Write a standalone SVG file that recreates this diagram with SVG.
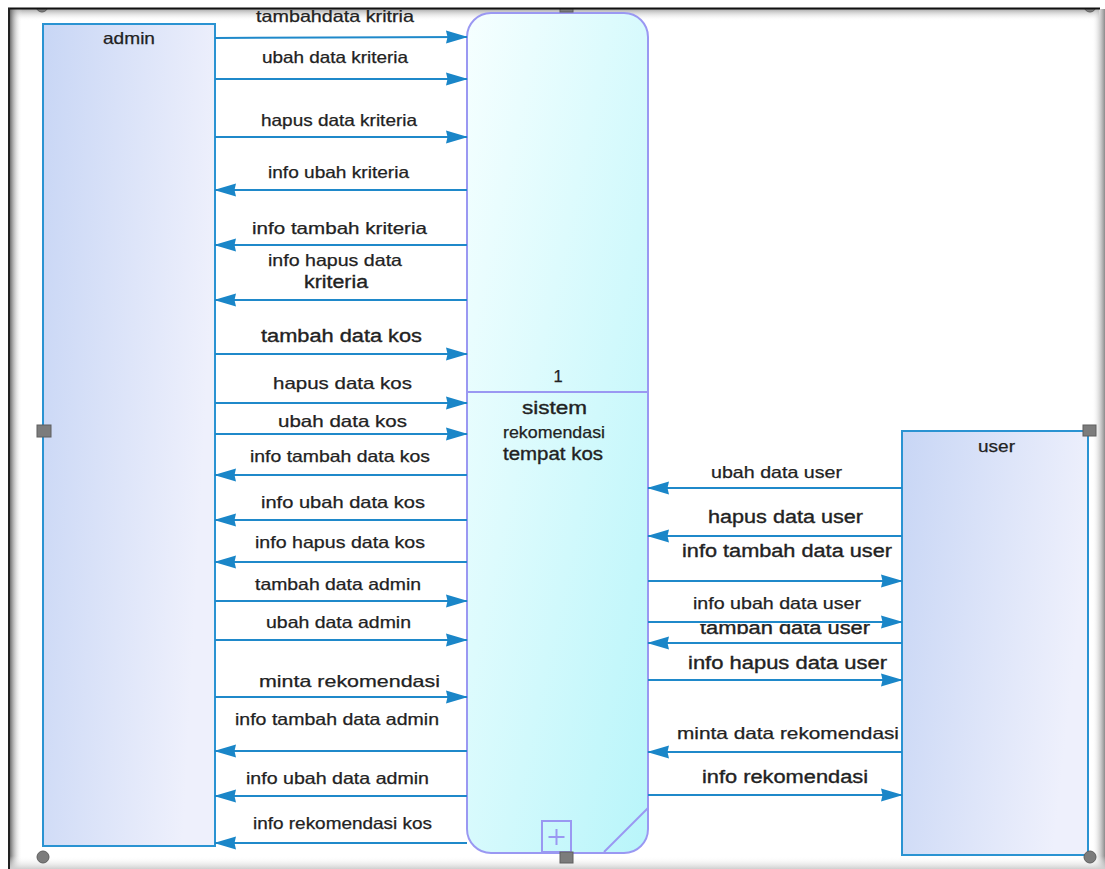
<svg xmlns="http://www.w3.org/2000/svg" width="1105" height="869" viewBox="0 0 1105 869">
<style>
.ent{stroke:#2a93d2;stroke-width:2}
.proc{stroke:#9a98f2;stroke-width:2}
.fl{stroke:#1f89ca;stroke-width:2;fill:none}
.fr{marker-end:url(#ah)}
.t{font-family:"Liberation Sans",Arial,sans-serif;font-size:16.5px;fill:#222;stroke:#222;stroke-width:0.25}
.tl{font-family:"Liberation Sans",Arial,sans-serif;font-size:18px;fill:#222;stroke:#222;stroke-width:0.35}
.hd{fill:#7c7c7c;stroke:#5e5e5e;stroke-width:1}
</style>
<defs>
<marker id="ah" markerUnits="userSpaceOnUse" markerWidth="22" markerHeight="14" refX="21" refY="7" orient="auto">
<path d="M0,0.5 L22,7 L0,13.5 L1.5,7 z" fill="#1a86c8"/>
</marker>
<linearGradient id="gEnt" x1="0" y1="0" x2="1" y2="0.25">
<stop offset="0" stop-color="#c8d6f5"/>
<stop offset="1" stop-color="#eef0fc"/>
</linearGradient>
<linearGradient id="gProc" x1="0" y1="0" x2="1" y2="1">
<stop offset="0" stop-color="#f6ffff"/>
<stop offset="1" stop-color="#b8f5fa"/>
</linearGradient>
<linearGradient id="gTop" x1="0" y1="0" x2="0" y2="1">
<stop offset="0" stop-color="#a8a8a8"/>
<stop offset="1" stop-color="#ffffff" stop-opacity="0"/>
</linearGradient>
<linearGradient id="gLeft" x1="0" y1="0" x2="1" y2="0">
<stop offset="0" stop-color="#555"/>
<stop offset="1" stop-color="#ffffff" stop-opacity="0"/>
</linearGradient>
<linearGradient id="gRight" x1="0" y1="0" x2="1" y2="0">
<stop offset="0" stop-color="#ffffff" stop-opacity="0"/>
<stop offset="1" stop-color="#8a8a8a"/>
</linearGradient>
<linearGradient id="gBot" x1="0" y1="0" x2="0" y2="1">
<stop offset="0" stop-color="#ffffff" stop-opacity="0"/>
<stop offset="1" stop-color="#cfcfcf"/>
</linearGradient>
<clipPath id="clipTU"><rect x="690" y="624" width="200" height="20"/></clipPath>
</defs>

<rect x="0" y="0" width="1105" height="869" fill="#ffffff"/>

<g id="frame">
<rect x="9" y="9" width="1090" height="12" fill="url(#gTop)"/>
<rect x="9" y="9" width="13" height="860" fill="url(#gLeft)"/>
<rect x="1092" y="9" width="13" height="860" fill="url(#gRight)"/>
<rect x="9" y="856" width="1096" height="13" fill="url(#gBot)"/>
</g>

<g id="node-admin">
<rect class="ent" x="43" y="24" width="172" height="822" fill="url(#gEnt)"/>
<text class="t" x="103" y="44" textLength="52" lengthAdjust="spacingAndGlyphs">admin</text>
</g>

<g id="node-process">
<rect class="proc" x="467" y="13" width="181" height="840" rx="24" ry="24" fill="url(#gProc)"/>
<line class="proc" x1="467" y1="392" x2="648" y2="392"/>
<text class="t" x="558" y="382" text-anchor="middle">1</text>
<text class="tl" x="522" y="414" textLength="65" lengthAdjust="spacingAndGlyphs">sistem</text>
<text class="t" x="503" y="438" textLength="102" lengthAdjust="spacingAndGlyphs">rekomendasi</text>
<text class="tl" x="503" y="460" textLength="100" lengthAdjust="spacingAndGlyphs">tempat kos</text>
<rect class="proc" x="542" y="821" width="29" height="31" fill="none" stroke-width="1.5"/>
<path class="proc" d="M556.5,829 V845 M548.5,837 H564.5" fill="none" stroke-width="1.5"/>
<line class="proc" x1="604" y1="852" x2="648" y2="808" stroke-width="1.5"/>
</g>

<g id="node-user">
<rect class="ent" x="902" y="431" width="186" height="424" fill="url(#gEnt)"/>
<text class="t" x="978" y="452" textLength="37" lengthAdjust="spacingAndGlyphs">user</text>
</g>

<g id="connectors">
<line class="fl fr" x1="215" y1="38" x2="467" y2="37"/>
<text class="t" x="256" y="22" textLength="158" lengthAdjust="spacingAndGlyphs">tambahdata kritria</text>
<line class="fl fr" x1="215" y1="79" x2="467" y2="79"/>
<text class="t" x="262" y="63" textLength="146" lengthAdjust="spacingAndGlyphs">ubah data kriteria</text>
<line class="fl fr" x1="215" y1="137" x2="467" y2="137"/>
<text class="t" x="261" y="126" textLength="156" lengthAdjust="spacingAndGlyphs">hapus data kriteria</text>
<line class="fl fr" x1="467" y1="190" x2="215" y2="190"/>
<text class="t" x="268" y="178" textLength="141" lengthAdjust="spacingAndGlyphs">info ubah kriteria</text>
<line class="fl fr" x1="467" y1="245" x2="215" y2="245"/>
<text class="t" x="252" y="234" textLength="175" lengthAdjust="spacingAndGlyphs">info tambah kriteria</text>
<line class="fl fr" x1="467" y1="300" x2="215" y2="300"/>
<text class="t" x="268" y="266" textLength="134" lengthAdjust="spacingAndGlyphs">info hapus data</text>
<text class="tl" x="304" y="288" textLength="64" lengthAdjust="spacingAndGlyphs">kriteria</text>
<line class="fl fr" x1="215" y1="354" x2="467" y2="354"/>
<text class="tl" x="261" y="342" textLength="161" lengthAdjust="spacingAndGlyphs">tambah data kos</text>
<line class="fl fr" x1="215" y1="403" x2="467" y2="403"/>
<text class="t" x="273" y="389" textLength="139" lengthAdjust="spacingAndGlyphs">hapus data kos</text>
<line class="fl fr" x1="215" y1="434" x2="467" y2="434"/>
<text class="t" x="278" y="427" textLength="129" lengthAdjust="spacingAndGlyphs">ubah data kos</text>
<line class="fl fr" x1="467" y1="475" x2="215" y2="475"/>
<text class="t" x="250" y="462" textLength="180" lengthAdjust="spacingAndGlyphs">info tambah data kos</text>
<line class="fl fr" x1="467" y1="520" x2="215" y2="520"/>
<text class="t" x="261" y="508" textLength="164" lengthAdjust="spacingAndGlyphs">info ubah data kos</text>
<line class="fl fr" x1="467" y1="562" x2="215" y2="562"/>
<text class="t" x="255" y="548" textLength="170" lengthAdjust="spacingAndGlyphs">info hapus data kos</text>
<line class="fl fr" x1="215" y1="601" x2="467" y2="601"/>
<text class="t" x="255" y="590" textLength="166" lengthAdjust="spacingAndGlyphs">tambah data admin</text>
<line class="fl fr" x1="215" y1="640" x2="467" y2="640"/>
<text class="t" x="266" y="628" textLength="145" lengthAdjust="spacingAndGlyphs">ubah data admin</text>
<line class="fl fr" x1="215" y1="697" x2="467" y2="697"/>
<text class="t" x="259" y="687" textLength="181" lengthAdjust="spacingAndGlyphs">minta rekomendasi</text>
<line class="fl fr" x1="467" y1="751" x2="215" y2="751"/>
<text class="t" x="235" y="725" textLength="204" lengthAdjust="spacingAndGlyphs">info tambah data admin</text>
<line class="fl fr" x1="467" y1="796" x2="215" y2="796"/>
<text class="t" x="246" y="784" textLength="183" lengthAdjust="spacingAndGlyphs">info ubah data admin</text>
<line class="fl fr" x1="467" y1="843" x2="215" y2="843"/>
<text class="t" x="253" y="829" textLength="179" lengthAdjust="spacingAndGlyphs">info rekomendasi kos</text>

<line class="fl fr" x1="902" y1="488" x2="648" y2="488"/>
<text class="t" x="711" y="478" textLength="131" lengthAdjust="spacingAndGlyphs">ubah data user</text>
<line class="fl fr" x1="902" y1="536" x2="648" y2="536"/>
<text class="tl" x="708" y="523" textLength="155" lengthAdjust="spacingAndGlyphs">hapus data user</text>
<line class="fl fr" x1="648" y1="581" x2="902" y2="581"/>
<text class="tl" x="682" y="557" textLength="210" lengthAdjust="spacingAndGlyphs">info tambah data user</text>
<line class="fl fr" x1="648" y1="622" x2="902" y2="622"/>
<text class="t" x="693" y="609" textLength="168" lengthAdjust="spacingAndGlyphs">info ubah data user</text>
<line class="fl fr" x1="902" y1="643" x2="648" y2="643"/>
<text class="tl" x="700" y="634" textLength="170" lengthAdjust="spacingAndGlyphs" clip-path="url(#clipTU)">tambah data user</text>
<line class="fl fr" x1="648" y1="680" x2="902" y2="680"/>
<text class="tl" x="688" y="669" textLength="199" lengthAdjust="spacingAndGlyphs">info hapus data user</text>
<line class="fl fr" x1="902" y1="752" x2="648" y2="752" stroke-width="3"/>
<text class="t" x="677" y="739" textLength="222" lengthAdjust="spacingAndGlyphs">minta data rekomendasi</text>
<line class="fl fr" x1="648" y1="795" x2="902" y2="795"/>
<text class="tl" x="702" y="783" textLength="166" lengthAdjust="spacingAndGlyphs">info rekomendasi</text>
</g>

<g id="handles">
<circle class="hd" cx="42" cy="6" r="6"/>
<rect class="hd" x="560" y="1" width="13" height="11"/>
<circle class="hd" cx="1090" cy="6" r="6"/>
<rect class="hd" x="37" y="425" width="14" height="12"/>
<rect class="hd" x="1083" y="425" width="13" height="11"/>
<circle class="hd" cx="43" cy="857" r="6"/>
<rect class="hd" x="560" y="852" width="13" height="11"/>
<circle class="hd" cx="1090" cy="857" r="6"/>
</g>

<g id="frame-top">
<rect x="0" y="0" width="1105" height="8" fill="#ffffff"/>
<line x1="8" y1="8.5" x2="1100" y2="8.5" stroke="#111" stroke-width="2"/>
<line x1="9" y1="8" x2="9" y2="869" stroke="#222" stroke-width="2"/>
</g>
</svg>
